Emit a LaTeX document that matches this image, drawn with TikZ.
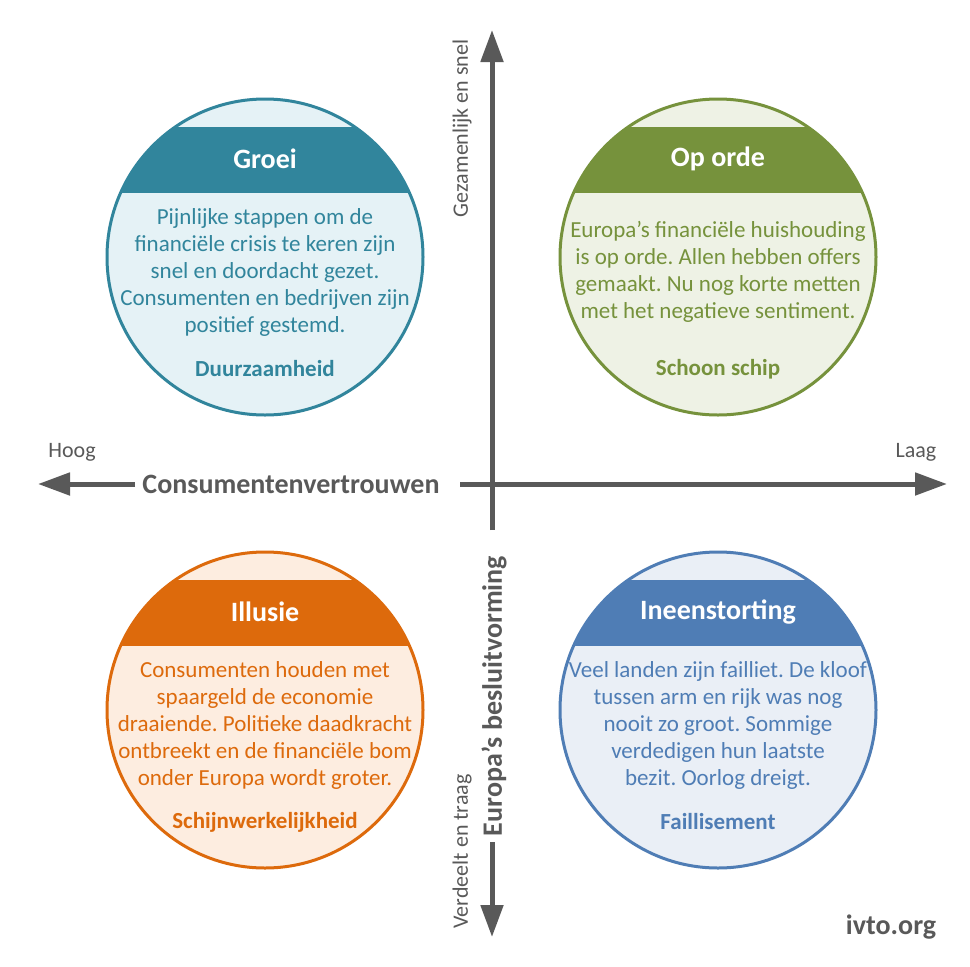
\documentclass[tikz,border=0pt]{standalone}
\usepackage{fontspec}
\setmainfont{Carlito}
\usetikzlibrary{arrows.meta}
\frenchspacing
\definecolor{tealD}{HTML}{31859C}
\definecolor{tealL}{HTML}{E5F2F6}
\definecolor{oliveD}{HTML}{76923C}
\definecolor{oliveL}{HTML}{EEF2E5}
\definecolor{orangeD}{HTML}{DD6A0C}
\definecolor{orangeL}{HTML}{FDEDE0}
\definecolor{blueD}{HTML}{4F7DB5}
\definecolor{blueL}{HTML}{EAEFF6}
\definecolor{axisgray}{HTML}{595959}
\tikzset{
  titletext/.style={text=white, font=\fontsize{28}{32}\selectfont\bfseries},
  bodytext/.style={font=\fontsize{23}{27}\selectfont, align=center},
  foottext/.style={font=\fontsize{23}{26}\selectfont\bfseries},
  axisline/.style={draw=axisgray, line width=5pt, -{Triangle[length=32pt,width=22pt]}},
  axislabel/.style={text=axisgray, font=\fontsize{22}{26}\selectfont},
  axistitle/.style={text=axisgray, font=\fontsize{28}{32}\selectfont\bfseries},
}
\newcommand\scenario[8]{%
  \begin{scope}
    \clip (#2,#3) circle[radius=158pt];
    \fill[#5] (#2,#3) circle[radius=158pt];
    \fill[#4] (#2-170,#3-130) rectangle (#2+170,#3-64);
  \end{scope}
  \draw[#4, line width=3pt] (#2,#3) circle[radius=158pt];
  \node[titletext] (#1-title) at (#2,#3-98) {#6};
  \node[bodytext, text=#4] (#1-body) at (#2,#3+15) {#7};
  \node[foottext, text=#4] (#1-foot) at (#2,#3+112) {#8};
}
\begin{document}
\begin{tikzpicture}[x=1pt,y=-1pt]
\fill[white] (0,0) rectangle (970,967);
\useasboundingbox (0,0) rectangle (970,967);

\scenario{groei}{265}{257}{tealD}{tealL}{Groei}{Pijnlijke stappen om de\\financiële crisis te keren zijn\\snel en doordacht gezet.\\Consumenten en bedrijven zijn\\positief gestemd.}{Duurzaamheid}
\scenario{orde}{718}{257}{oliveD}{oliveL}{Op orde}{Europa’s financiële huishouding\\is op orde. Allen hebben offers\\gemaakt. Nu nog korte metten\\met het negatieve sentiment.}{Schoon schip}
\scenario{illusie}{265}{710}{orangeD}{orangeL}{Illusie}{Consumenten houden met\\spaargeld de economie\\draaiende. Politieke daadkracht\\ontbreekt en de financiële bom\\onder Europa wordt groter.}{Schijnwerkelijkheid}
\scenario{ineen}{718}{710}{blueD}{blueL}{Ineenstorting}{Veel landen zijn failliet. De kloof\\tussen arm en rijk was nog\\nooit zo groot. Sommige\\verdedigen hun laatste\\bezit. Oorlog dreigt.}{Faillisement}

% axes
\coordinate (hLtip) at (38,484);
\coordinate (hLend) at (135,484);
\coordinate (hRstart) at (460,484);
\coordinate (hRtip) at (947,484);
\coordinate (vTtip) at (492,30);
\coordinate (vTend) at (492,530);
\coordinate (vBstart) at (492,842);
\coordinate (vBtip) at (492,937);
\draw[axisline] (hLend) -- (hLtip);
\draw[axisline] (hRstart) -- (hRtip);
\draw[axisline] (vTend) -- (vTtip);
\draw[axisline] (vBstart) -- (vBtip);

\node[axistitle] (hTitle) at (291,484) {Consumentenvertrouwen};
\node[axistitle, rotate=90] (vTitle) at (494,696) {Europa’s besluitvorming};
\node[axislabel] (hoog) at (72,452) {Hoog};
\node[axislabel] (laag) at (916,452) {Laag};
\node[axislabel, rotate=90, anchor=east] (snel) at (462,36) {Gezamenlijk en snel};
\node[axislabel, rotate=90, anchor=west] (traag) at (462,932) {Verdeelt en traag};
\node[axistitle] (ivto) at (891,927) {ivto.org};
\end{tikzpicture}
\end{document}
